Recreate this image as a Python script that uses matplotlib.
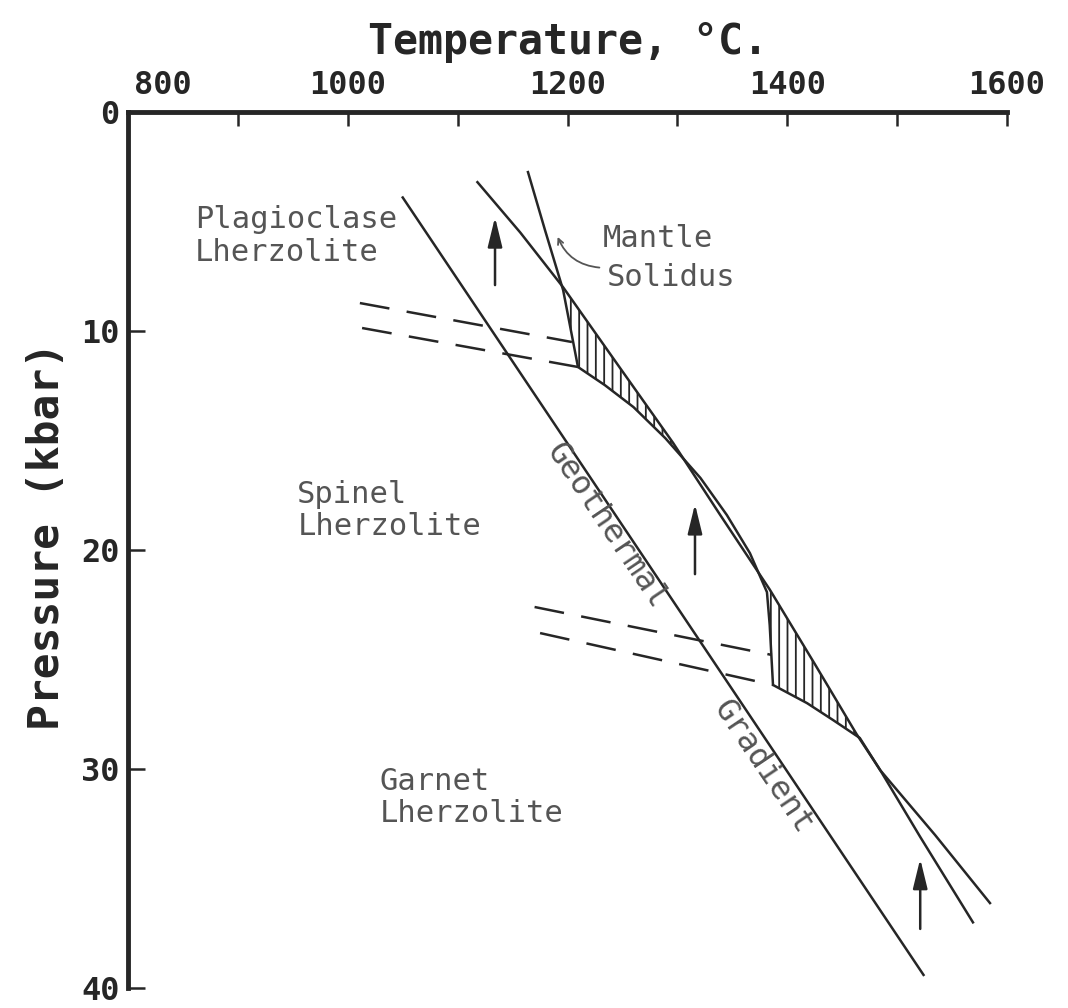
import matplotlib
matplotlib.use("Agg")
import matplotlib.pyplot as plt
import matplotlib.transforms as mtransforms
import numpy as np

# geotherm (straight line), T in degC, P in kbar
geo_T = [1050, 1524]
geo_P = [3.9, 39.4]

# smooth solidus-type curve
a_T = [1118, 1157, 1196, 1248, 1296, 1339, 1384, 1425, 1463, 1484, 1521, 1569]
a_P = [3.2, 5.5, 8.0, 11.7, 15.1, 18.4, 21.8, 25.2, 28.4, 30.0, 33.1, 37.0]

# kinked mantle solidus
b_T = [1164, 1179.5, 1196, 1203, 1209.5, 1234, 1260, 1289, 1321, 1345, 1366,
       1381.5, 1384, 1387, 1418, 1441.6, 1466, 1484.4, 1534.5, 1584.5]
b_P = [2.74, 5.39, 8.13, 9.95, 11.64, 12.47, 13.47, 14.89, 16.71, 18.40, 20.14,
       21.92, 23.42, 26.16, 26.99, 27.76, 28.58, 30.04, 33.01, 36.12]

# dashed phase boundaries
dash_lines = [
    ([1011, 1204], [8.72, 10.50]),
    ([1013, 1209.5], [9.86, 11.64]),
    ([1170, 1386], [22.60, 24.79]),
    ([1175, 1387], [23.79, 26.16]),
]

# upward arrows: (T, P_tail, P_head)
arrows = [(1134, 7.9, 4.8), (1316, 21.1, 17.9), (1521, 37.3, 34.1)]

regions = [
    ("Plagioclase\nLherzolite", 861, 5.66),
    ("Spinel\nLherzolite", 954, 18.2),
    ("Garnet\nLherzolite", 1029, 31.3),
]

x_major = [800, 1000, 1200, 1400, 1600]
x_minor = [900, 1100, 1300, 1500]
y_ticks = [0, 10, 20, 30, 40]

ink = "#262626"
grey = "#555555"
mono = "DejaVu Sans Mono"
plt.rcParams["hatch.linewidth"] = 1.3

fig = plt.figure(figsize=(10.68, 10.08), dpi=100)
ax = fig.add_axes([0.1199, 0.0198, 0.823, 0.869])
ax.set_xlim(800, 1600)
ax.set_ylim(40, 0)

for s in ["right", "bottom"]:
    ax.spines[s].set_visible(False)
for s in ["left", "top"]:
    ax.spines[s].set_linewidth(3.5)
    ax.spines[s].set_color(ink)

ax.xaxis.set_ticks_position("top")
ax.xaxis.set_label_position("top")
ax.set_xticks(x_major)
ax.set_xticks(x_minor, minor=True)
ax.set_xticklabels([str(v) for v in x_major])
ax.set_yticks(y_ticks)
ax.set_yticklabels([str(v) for v in y_ticks])
ax.tick_params(axis="x", which="both", direction="in", length=10, width=1.8,
               colors=ink, pad=8)
ax.tick_params(axis="y", direction="in", length=12, width=1.8, colors=ink, pad=6)
for lab in ax.get_xticklabels() + ax.get_yticklabels():
    lab.set_fontfamily(mono)
    lab.set_fontweight("bold")
    lab.set_fontsize(23)
# shift the 800 label to the right, as in the original
lab800 = ax.get_xticklabels()[0]
lab800.set_transform(lab800.get_transform() +
                     mtransforms.ScaledTranslation(0.35, 0, fig.dpi_scale_trans))

lw = 1.8
ax.plot(geo_T, geo_P, color=ink, lw=lw)
ax.plot(a_T, a_P, color=ink, lw=lw)
ax.plot(b_T, b_P, color=ink, lw=lw)
for t, p in dash_lines:
    ax.plot(t, p, color=ink, lw=lw, dashes=(12, 7))

# hatched zones where the kinked solidus lies below the smooth curve
pp = np.linspace(3.2, 36.1, 2000)
ta = np.interp(pp, a_P, a_T)
tb = np.interp(pp, b_P, b_T)
ax.fill_betweenx(pp, tb, ta, where=tb < ta, facecolor="none", edgecolor=ink,
                 hatch="||", linewidth=0)

for t, p0, p1 in arrows:
    ax.annotate("", xy=(t, p1), xytext=(t, p0),
                arrowprops=dict(arrowstyle="-|>,head_length=0.9,head_width=0.22",
                                color=ink, lw=1.8, shrinkA=0, shrinkB=0,
                                mutation_scale=20))

for txt, t, p in regions:
    ax.text(t, p, txt, family=mono, fontsize=22, color=grey,
            ha="left", va="center", linespacing=1.15)

ax.text(1232, 5.75, "Mantle", family=mono, fontsize=22, color=grey,
        ha="left", va="center")
ax.text(1236, 7.55, "Solidus", family=mono, fontsize=22, color=grey,
        ha="left", va="center")
ax.annotate("", xy=(1191, 5.7), xytext=(1229, 7.1),
            arrowprops=dict(arrowstyle="->", color=grey, lw=1.3,
                            connectionstyle="arc3,rad=-0.3",
                            shrinkA=0, shrinkB=0))

ax.text(1235, 18.9, "Geothermal", family=mono, fontsize=23, color=grey,
        rotation=-56, rotation_mode="anchor", ha="center", va="center")
ax.text(1377, 29.9, "Gradient", family=mono, fontsize=23, color=grey,
        rotation=-56, rotation_mode="anchor", ha="center", va="center")

fig.text(0.532, 0.958, "Temperature, °C.", family=mono, fontweight="bold",
         fontsize=30, color=ink, ha="center", va="center")
fig.text(0.044, 0.468, "Pressure (kbar)", family=mono, fontweight="bold",
         fontsize=31, color=ink, ha="center", va="center", rotation=90)

fig.savefig("out.png", dpi=100, facecolor="white")
